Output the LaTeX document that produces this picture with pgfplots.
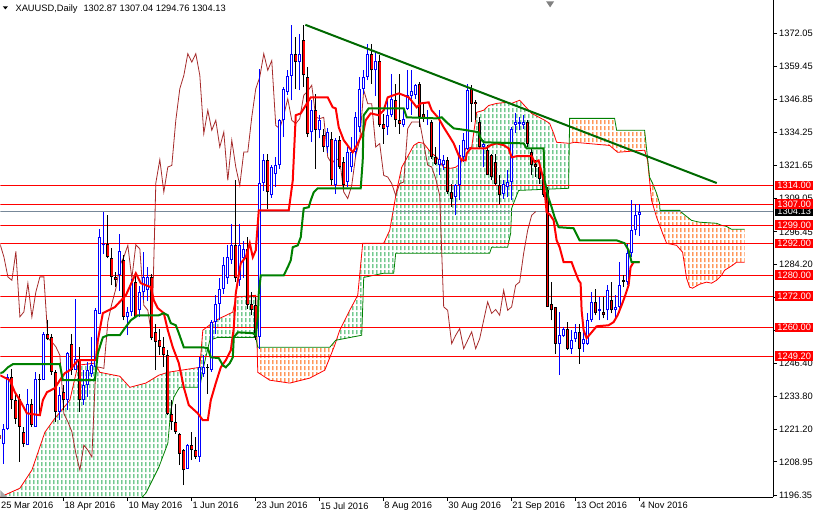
\documentclass[border=0pt]{standalone}
\usepackage{fontspec}
\setmainfont{Liberation Sans}
\usepackage{pgfplots}
\pgfplotsset{compat=1.18}
\usepackage{pgfplotstable}
\usepgfplotslibrary{fillbetween}
\usetikzlibrary{patterns.meta}

\definecolor{bull}{RGB}{0,0,255}
\definecolor{bear}{RGB}{255,0,0}
\definecolor{tenkan}{RGB}{255,0,0}
\definecolor{kijun}{RGB}{0,128,0}
\definecolor{chikou}{RGB}{165,42,42}
\definecolor{spana}{RGB}{255,0,0}
\definecolor{spanb}{RGB}{0,128,0}
\definecolor{cloudgreen}{RGB}{40,172,85}
\definecolor{cloudorange}{RGB}{255,95,0}
\definecolor{curgray}{RGB}{119,136,153}
\definecolor{trend}{RGB}{0,105,0}

\pgfdeclarepattern{
  name=mthatch,
  type=uncolored,
  bottom left={\pgfpoint{0pt}{0pt}},
  top right={\pgfpoint{4pt}{6pt}},
  tile size={\pgfpoint{4pt}{6pt}},
  code={
    \pgfpathrectangle{\pgfpoint{1.5pt}{1pt}}{\pgfpoint{1pt}{4pt}}
    \pgfusepath{fill}
  }
}

% closes of all bars (for the lagging span)
\pgfplotstableread{
i C
0 1217.5
1 1221.6
2 1241.3
3 1232.6
4 1225.4
5 1222.3
6 1215.9
7 1231.1
8 1222.9
9 1240.6
10 1240.0
11 1257.7
12 1255.8
13 1243.2
14 1228.0
15 1234.3
16 1232.4
17 1250.4
18 1243.8
19 1248.2
20 1232.6
21 1238.1
22 1243.8
23 1245.7
24 1266.6
25 1294.5
26 1292.0
27 1286.9
28 1279.3
29 1278.0
30 1289.0
31 1264.1
32 1266.0
33 1276.9
34 1264.1
35 1273.6
36 1279.3
37 1279.3
38 1255.9
39 1254.6
40 1252.7
41 1249.5
42 1227.3
43 1224.2
44 1220.4
45 1212.1
46 1205.8
47 1215.3
48 1213.4
49 1210.8
50 1245.1
51 1244.9
52 1244.5
53 1262.2
54 1269.1
55 1274.8
56 1283.7
57 1286.9
58 1291.3
59 1278.7
60 1291.5
61 1290.0
62 1268.5
63 1266.6
64 1256.5
65 1315.0
66 1323.9
67 1311.6
68 1321.1
69 1321.7
70 1338.9
71 1350.9
72 1355.9
73 1364.2
74 1361.0
75 1364.2
76 1356.0
77 1333.8
78 1342.7
79 1335.1
80 1338.9
81 1328.7
82 1334.4
83 1316.0
84 1331.3
85 1321.1
86 1314.1
87 1326.8
88 1326.8
89 1340.1
90 1350.9
91 1355.3
92 1364.2
93 1357.9
94 1361.6
95 1336.9
96 1335.7
97 1340.8
98 1347.1
99 1338.9
100 1337.6
101 1339.5
102 1348.4
103 1350.0
104 1352.2
105 1340.1
106 1339.5
107 1340.0
108 1324.9
109 1322.4
110 1324.3
111 1323.6
112 1311.6
113 1309.1
114 1314.1
115 1325.5
116 1331.2
117 1350.3
118 1345.2
119 1345.2
120 1328.7
121 1330.0
122 1317.9
123 1317.3
124 1314.8
125 1310.3
126 1314.8
127 1315.4
128 1335.7
129 1338.2
130 1338.2
131 1338.2
132 1330.0
133 1321.8
134 1321.1
135 1316.7
136 1310.3
137 1267.9
138 1266.6
139 1253.9
140 1257.1
141 1259.6
142 1252.0
143 1255.2
144 1258.4
145 1252.0
146 1255.8
147 1262.8
148 1269.8
149 1265.4
150 1266.9
151 1264.7
152 1274.2
153 1266.6
154 1267.9
155 1276.1
156 1277.4
157 1288.2
158 1297.0
159 1302.7
160 1304.13
}\closes

% rising bars
\pgfplotstableread{
i O H L C
1 1215.9 1223.5 1208.3 1221.6
2 1221.6 1242.5 1221.0 1241.3
7 1215.3 1236.8 1215.3 1231.1
9 1222.3 1243.2 1222.3 1240.6
11 1240.0 1258.4 1240.0 1257.7
15 1228.0 1237.5 1225.0 1234.3
17 1232.6 1250.8 1228.6 1250.4
19 1243.8 1270.8 1243.8 1248.2
21 1232.4 1243.8 1230.5 1238.1
22 1238.1 1247.0 1233.7 1243.8
23 1242.5 1256.5 1241.3 1245.7
24 1245.1 1267.5 1243.8 1266.6
25 1265.3 1297.7 1265.3 1294.5
26 1291.3 1304.0 1288.0 1292.0
30 1280.0 1295.5 1274.0 1289.0
32 1264.1 1267.9 1257.1 1266.0
33 1266.0 1278.5 1264.5 1276.9
35 1266.6 1276.0 1264.0 1273.6
36 1273.6 1288.8 1270.5 1279.3
37 1274.2 1283.0 1270.0 1279.3
47 1206.4 1215.9 1206.4 1215.3
50 1210.8 1248.9 1209.0 1245.1
51 1242.5 1249.5 1241.3 1244.9
53 1243.8 1262.8 1243.2 1262.2
54 1262.2 1272.3 1257.7 1269.1
55 1269.1 1278.7 1262.8 1274.8
56 1274.8 1286.9 1272.9 1283.7
57 1278.7 1291.3 1276.7 1286.9
58 1285.6 1299.6 1284.3 1291.3
60 1278.0 1299.6 1276.0 1291.5
61 1286.3 1293.0 1279.0 1290.0
65 1256.5 1358.5 1252.0 1315.0
66 1315.0 1326.2 1312.0 1323.9
68 1310.3 1322.0 1309.5 1321.1
69 1318.6 1324.9 1313.5 1321.7
70 1321.7 1339.5 1320.5 1338.9
71 1338.9 1351.5 1332.5 1350.9
72 1349.6 1357.9 1348.5 1355.9
73 1355.9 1375.0 1346.4 1364.2
75 1361.0 1371.8 1350.3 1364.2
78 1334.4 1346.4 1330.6 1342.7
80 1335.0 1341.0 1332.0 1338.9
82 1328.7 1336.0 1326.5 1334.4
84 1314.1 1332.0 1311.0 1331.3
87 1315.4 1328.7 1313.5 1326.8
88 1321.1 1332.5 1319.2 1326.8
89 1326.8 1342.0 1325.0 1340.1
90 1336.3 1355.3 1334.4 1350.9
91 1350.9 1357.9 1349.0 1355.3
92 1355.3 1368.0 1354.1 1364.2
94 1357.9 1364.8 1348.3 1361.6
97 1336.3 1346.5 1333.2 1340.8
98 1340.8 1356.6 1340.1 1347.1
101 1337.0 1343.0 1336.3 1339.5
102 1343.3 1357.9 1342.7 1348.4
103 1348.0 1357.9 1341.0 1350.0
104 1348.4 1352.8 1347.1 1352.2
107 1339.5 1342.7 1337.0 1340.0
110 1321.7 1342.7 1317.9 1324.3
111 1321.7 1325.5 1319.8 1323.6
114 1309.7 1314.8 1302.7 1314.1
115 1314.1 1329.4 1308.4 1325.5
116 1324.9 1334.0 1323.0 1331.2
117 1328.1 1352.8 1327.5 1350.3
121 1328.7 1331.2 1321.1 1330.0
126 1311.0 1316.0 1309.0 1314.8
127 1313.5 1319.8 1309.7 1315.4
128 1315.4 1336.3 1308.4 1335.7
129 1337.0 1341.5 1334.0 1338.2
130 1337.6 1340.0 1335.0 1338.2
131 1337.0 1341.0 1335.5 1338.2
140 1253.9 1266.0 1241.9 1257.1
141 1257.0 1260.3 1256.5 1259.6
143 1252.0 1259.0 1250.1 1255.2
144 1255.5 1261.5 1254.6 1258.4
146 1253.9 1259.6 1250.8 1255.8
147 1253.9 1265.4 1253.3 1262.8
148 1262.8 1273.6 1262.2 1269.8
150 1266.4 1271.7 1262.8 1266.9
152 1266.6 1276.1 1262.8 1274.2
154 1266.6 1272.3 1262.8 1267.9
155 1267.9 1285.0 1265.4 1276.1
157 1277.4 1292.0 1276.1 1288.2
158 1288.2 1308.4 1286.9 1297.0
159 1297.0 1307.2 1295.1 1302.7
160 1302.87 1307.04 1294.76 1304.13
}\bulls

% falling bars
\pgfplotstableread{
i O H L C
0 1219.0 1222.0 1215.5 1217.5
3 1241.3 1244.4 1229.0 1232.6
4 1232.6 1235.6 1223.5 1225.4
5 1233.0 1234.9 1209.0 1222.3
6 1220.4 1222.3 1214.6 1215.9
8 1231.1 1233.0 1222.3 1222.9
10 1240.6 1242.5 1227.3 1240.0
12 1257.7 1262.8 1255.2 1255.8
13 1256.5 1257.7 1241.9 1243.2
14 1243.2 1243.8 1224.2 1228.0
16 1235.6 1238.0 1228.6 1232.4
18 1253.9 1257.7 1241.9 1243.8
20 1247.6 1252.7 1228.0 1232.6
27 1292.0 1302.7 1286.3 1286.9
28 1286.3 1290.1 1276.1 1279.3
29 1279.3 1281.2 1275.5 1278.0
31 1285.6 1287.5 1262.8 1264.1
34 1277.4 1280.5 1263.5 1264.1
38 1279.3 1280.5 1255.2 1255.9
39 1258.4 1261.5 1243.8 1254.6
40 1255.2 1259.6 1249.5 1252.7
41 1252.7 1256.5 1245.1 1249.5
42 1249.5 1251.4 1226.7 1227.3
43 1227.3 1232.4 1221.0 1224.2
44 1224.2 1231.1 1219.7 1220.4
45 1219.7 1219.9 1207.7 1212.1
46 1213.4 1214.0 1200.1 1205.8
48 1215.3 1220.4 1209.6 1213.4
49 1213.4 1218.4 1210.2 1210.8
52 1245.0 1246.3 1234.9 1244.5
59 1291.3 1316.0 1277.4 1278.7
62 1290.0 1294.5 1267.2 1268.5
63 1269.1 1273.6 1264.7 1266.6
64 1268.5 1271.7 1255.2 1256.5
67 1323.9 1326.2 1305.3 1311.6
74 1364.2 1370.5 1350.9 1361.0
76 1369.3 1375.2 1351.5 1356.0
77 1355.3 1359.1 1332.5 1333.8
79 1342.7 1349.0 1320.5 1335.1
81 1333.1 1335.7 1326.8 1328.7
83 1331.9 1334.4 1314.1 1316.0
85 1331.3 1333.0 1320.5 1321.1
86 1323.0 1324.9 1312.9 1314.1
93 1364.2 1368.0 1352.8 1357.9
95 1361.6 1363.6 1336.3 1336.9
96 1337.6 1341.4 1330.0 1335.7
99 1346.5 1352.8 1336.3 1338.9
100 1338.9 1356.6 1333.8 1337.6
105 1352.8 1353.4 1336.3 1340.1
106 1341.4 1345.2 1338.2 1339.5
108 1338.2 1338.9 1324.3 1324.9
109 1324.9 1328.7 1321.7 1322.4
112 1323.6 1324.9 1311.0 1311.6
113 1311.6 1314.8 1305.9 1309.1
118 1350.9 1352.2 1338.2 1345.2
119 1346.0 1346.5 1338.9 1345.2
120 1338.2 1340.1 1328.1 1328.7
122 1327.5 1329.4 1317.9 1317.9
123 1325.5 1326.2 1316.0 1317.3
124 1323.0 1326.2 1314.1 1314.8
125 1314.1 1317.9 1307.2 1310.3
132 1338.2 1338.9 1328.7 1330.0
133 1326.8 1328.1 1317.9 1321.8
134 1322.4 1323.6 1317.3 1321.1
135 1321.1 1321.7 1314.8 1316.7
136 1317.9 1318.6 1309.7 1310.3
137 1312.2 1313.5 1267.9 1267.9
138 1269.1 1277.4 1262.8 1266.6
139 1267.9 1268.0 1250.1 1253.9
142 1259.6 1262.2 1251.4 1252.0
145 1258.4 1261.5 1246.3 1252.0
149 1269.8 1274.8 1264.7 1265.4
151 1265.8 1271.7 1263.5 1264.7
153 1270.4 1277.4 1265.4 1266.6
156 1278.0 1279.9 1275.5 1277.4
}\bears

% Senkou span A and B
\pgfplotstableread{
x y
0 1195.5
5 1198.9
8 1205.8
11.25 1220.2
13.75 1225.5
17.5 1232.4
19.5 1245.7
23.75 1246.5
25 1243.0
30 1241.5
32.5 1237.3
36.5 1238.9
39.75 1241.9
42 1243.0
50 1244.9
50.75 1259.0
54 1262.8
58.25 1265.9
59 1271.6
64 1272.3
64.5 1243.0
67.5 1240.0
72.5 1238.9
77.5 1240.8
81.25 1243.8
83.75 1253.3
85 1259.0
87.5 1266.6
89.5 1272.3
90.75 1292.1
96 1292.1
97.5 1297.0
99.25 1312.2
100.5 1321.0
101.75 1324.4
103.5 1329.3
104.75 1330.5
106 1330.1
107.75 1326.7
109.25 1324.8
111 1321.0
112.75 1320.6
114 1321.0
115.25 1322.5
116.5 1328.2
118 1328.6
119.25 1341.9
121 1342.7
122.25 1344.5
124.25 1345.3
126.75 1345.7
128 1345.3
130 1346.5
133 1341.5
136.25 1338.9
137.5 1337.7
138.5 1333.9
139.25 1330.5
142.5 1330.1
143.75 1330.5
152.5 1329.3
154.5 1326.7
161.25 1327.5
162 1323.6
163 1308.4
164.25 1302.0
165.75 1295.9
166.75 1292.1
169.25 1291.3
170.75 1288.7
171.75 1278.8
172.5 1275.4
173.25 1275.0
175 1276.5
176.75 1277.3
178 1276.9
179.25 1278.0
180.5 1279.9
181.25 1281.8
182.5 1283.0
183.25 1283.7
184.25 1284.9
186.25 1284.9
}\spanA
\pgfplotstableread{
x y
0 1186.7
15 1186.7
25 1188.7
32.5 1190.6
36.5 1197.0
39.75 1206.9
42 1216.0
42.75 1228.6
43.5 1233.5
44.5 1236.2
45 1237.3
50 1237.3
50.75 1243.8
52.5 1255.2
54.5 1256.3
64 1256.3
64.5 1252.5
82.5 1252.5
84 1255.2
90.5 1257.1
91 1279.1
96 1280.7
98.5 1280.7
99 1288.3
122.5 1288.3
123 1290.6
127 1290.6
127.75 1295.9
128 1305.4
129.75 1312.2
142.25 1313.0
142.5 1339.6
153.75 1339.6
154.25 1335.1
161.25 1335.1
162.5 1317.2
163.25 1314.9
164.25 1311.1
165 1307.3
165.1 1304.6
170 1304.6
170.75 1303.5
173 1300.8
175 1300.1
179.25 1299.7
180.5 1298.9
181.75 1298.5
183 1297.4
186.25 1297.4
}\spanB

\begin{document}
\begin{tikzpicture}[font=\fontsize{9.3}{11}\selectfont]
\begin{axis}[
  scale only axis, width=773pt, height=497pt,
  xmin=0.125, xmax=193.375, ymin=1195.51, ymax=1384.48,
  separate axis lines, axis x line*=bottom, axis y line*=right,
  axis line style={black, line width=0.8pt, -},
  tick align=outside, major tick length=4pt,
  tick style={black, line width=0.8pt},
  xtick={16,32,...,160},
  xticklabels={18 Apr 2016,10 May 2016,1 Jun 2016,23 Jun 2016,15 Jul 2016,8 Aug 2016,30 Aug 2016,21 Sep 2016,13 Oct 2016,4 Nov 2016},
  ytick={1196.35,1208.95,1221.20,1233.80,1246.40,1259.00,1271.60,1284.20,1296.45,1309.05,1321.65,1334.25,1346.85,1359.45,1372.05},
  yticklabels={1196.35,1208.95,1221.20,1233.80,1246.40,{},{},1284.20,1296.45,1309.05,1321.65,1334.25,1346.85,1359.45,1372.05},
  xticklabel style={anchor=north west, inner sep=0pt, xshift=0.5pt, yshift=-1pt},
  yticklabel style={anchor=west, inner sep=0pt, xshift=2pt},
]
% cloud
\addplot[name path=pA, draw=none] table[x=x, y=y] {\spanA};
\addplot[name path=pB, draw=none] table[x=x, y=y] {\spanB};
\addplot[pattern=mthatch, pattern color=cloudgreen, draw=none] fill between[of=pA and pB, soft clip={domain=0:64.31}];
\addplot[pattern=mthatch, pattern color=cloudorange, draw=none] fill between[of=pA and pB, soft clip={domain=64.31:84.12}];
\addplot[pattern=mthatch, pattern color=cloudgreen, draw=none] fill between[of=pA and pB, soft clip={domain=84.12:142.41}];
\addplot[pattern=mthatch, pattern color=cloudorange, draw=none] fill between[of=pA and pB, soft clip={domain=142.41:186.25}];
\addplot[spana, line width=0.8pt] table[x=x, y=y] {\spanA};
\addplot[spanb, line width=0.8pt] table[x=x, y=y] {\spanB};

% horizontal levels
\pgfplotsinvokeforeach{1314,1307,1299,1292,1280,1272,1260,1249.2}{
  \addplot[red, line width=0.8pt] coordinates {(0.125,#1) (193.375,#1)};
}
\addplot[curgray, line width=0.8pt] coordinates {(0.125,1304.13) (193.375,1304.13)};

% lagging span
\addplot[chikou, line width=0.8pt] table[x expr=\thisrow{i}-26, y=C] {\closes};

% wicks
\addplot[draw=none, mark=none,
  error bars/.cd, y dir=plus, y explicit, error mark=none,
  error bar style={draw=bull, line width=0.9pt}]
  table[x=i, y=L, y error expr=\thisrow{H}-\thisrow{L}] {\bulls};
\addplot[draw=none, mark=none,
  error bars/.cd, y dir=plus, y explicit, error mark=none,
  error bar style={draw=black, line width=0.9pt}]
  table[x=i, y=L, y error expr=\thisrow{H}-\thisrow{L}] {\bears};
% rising bodies (hollow)
\addplot[draw=none, mark=none,
  error bars/.cd, y dir=plus, y explicit, error mark=none,
  error bar style={draw=bull, line width=3pt}]
  table[x=i, y=O, y error expr=\thisrow{C}-\thisrow{O}] {\bulls};
\addplot[draw=none, mark=none,
  error bars/.cd, y dir=plus, y explicit, error mark=none,
  error bar style={draw=white, line width=1pt}]
  table[x=i, y expr=\thisrow{O}+0.38, y error expr={max(\thisrow{C}-\thisrow{O}-0.76,0)}] {\bulls};
% falling bodies
\addplot[draw=none, mark=none,
  error bars/.cd, y dir=plus, y explicit, error mark=none,
  error bar style={draw=black, line width=3pt}]
  table[x=i, y=C, y error expr=\thisrow{O}-\thisrow{C}] {\bears};
\addplot[draw=none, mark=none,
  error bars/.cd, y dir=plus, y explicit, error mark=none,
  error bar style={draw=bear, line width=1.6pt}]
  table[x=i, y expr=\thisrow{C}+0.38, y error expr={max(\thisrow{O}-\thisrow{C}-0.76,0)}] {\bears};

% Tenkan-sen
\addplot[tenkan, line width=2pt] coordinates {
(0,1241.9)(2.5,1240.0)(3.75,1235.4)(5,1232.4)(6.75,1227.4)(10,1226.7)(10.75,1232.4)(11.75,1235.4)(13.75,1237.0)(15,1240.0)(16.25,1242.7)(17.5,1243.8)(19.5,1247.6)(24,1247.6)(24.5,1255.2)(25.75,1265.5)(28.75,1267.8)(31.5,1272.3)(33,1277.3)(34,1280.7)(35.25,1276.9)(37.75,1275.4)(38.5,1270.4)(39.5,1267.4)(41,1265.5)(42,1259.0)(43.25,1252.5)(44.75,1246.5)(46,1237.3)(47.25,1230.5)(49.5,1227.4)(50.75,1224.8)(52,1224.8)(52.75,1232.4)(54,1238.9)(55.25,1244.9)(56.5,1247.6)(57.75,1251.4)(58.5,1259.8)(59,1273.1)(60.25,1284.5)(61.5,1286.8)(62.5,1292.1)(63.25,1286.8)(64,1289.4)(64.75,1304.6)(72.25,1304.6)(73.25,1316.0)(74,1340.8)(75.25,1341.5)(77.75,1347.6)(82,1347.6)(83.25,1343.8)(84,1343.4)(84.75,1336.2)(86,1331.3)(88.25,1326.7)(89,1328.6)(90.25,1332.4)(91,1335.1)(91.5,1338.9)(92.75,1341.5)(94.75,1340.8)(96,1342.7)(97,1347.6)(99.75,1349.1)(101,1348.4)(102.25,1347.6)(103.5,1345.3)(104.25,1343.8)(105.25,1345.3)(107.25,1345.7)(108,1342.7)(109.75,1339.6)(111,1336.2)(112.25,1333.2)(113.5,1330.1)(114.75,1325.5)(115.5,1323.6)(116.5,1323.6)(116.75,1326.3)(117.75,1328.2)(121.5,1328.2)(122.75,1329.4)(124.25,1330.1)(126,1329.4)(127.25,1328.2)(128,1324.8)(129.25,1325.2)(133,1325.2)(133.75,1322.9)(134.75,1323.6)(136,1316.0)(136.75,1303.9)(137.5,1303.1)(138.5,1300.8)(139.25,1293.2)(140,1290.6)(141,1284.9)(143,1284.9)(143.75,1281.8)(144.75,1278.0)(145.25,1276.9)(145.5,1266.6)(146,1259.0)(146.75,1256.0)(148,1258.2)(149.25,1260.5)(152.25,1260.9)(153.5,1262.1)(154.5,1264.7)(155.5,1268.5)(156.25,1271.6)(157.25,1276.1)(157.75,1283.0)(158.5,1284.9)(160,1284.9)};
% Kijun-sen
\addplot[kijun, line width=2pt] coordinates {
(0,1242.7)(0.75,1243.0)(2,1244.9)(3.25,1246.1)(15,1246.1)(15.75,1240.0)(23.75,1240.0)(24.5,1250.3)(25.75,1256.3)(27,1257.1)(30,1257.1)(31.25,1259.8)(32.75,1262.8)(34.5,1264.7)(39.75,1264.7)(41,1265.5)(42,1264.7)(42.75,1261.7)(44,1260.9)(44.75,1257.9)(46,1252.5)(50.75,1252.5)(52,1252.2)(52.75,1248.7)(54.75,1248.4)(55.75,1245.7)(56.5,1244.9)(57.5,1246.5)(58.25,1248.7)(58.5,1256.3)(59.5,1258.2)(63.25,1257.9)(64,1257.1)(64.5,1263.9)(64.75,1273.1)(65.25,1279.9)(71,1279.9)(72,1283.0)(72.75,1285.6)(73.25,1290.6)(74.5,1291.3)(75.25,1294.4)(75.75,1302.0)(76,1305.4)(77.25,1305.8)(77.75,1308.4)(78.5,1311.5)(79.5,1313.0)(90.25,1313.0)(90.75,1323.6)(91,1340.8)(92.25,1343.4)(101,1343.4)(101.75,1340.0)(109.25,1339.6)(110.5,1340.0)(111.75,1338.1)(113.5,1335.8)(116.75,1335.1)(119.75,1334.3)(120.25,1332.0)(121,1330.5)(131,1330.1)(131.75,1328.2)(136,1328.2)(136.25,1316.0)(137.25,1309.2)(138,1305.8)(138.75,1302.0)(139.75,1298.2)(143.5,1297.8)(145,1293.2)(154.25,1293.2)(156.25,1292.1)(157.25,1289.4)(158,1284.9)(160,1284.9)};

% trend line
\addplot[trend, line width=2pt] coordinates {(76.4,1375.2) (179.3,1315.0)};

\coordinate (r1314) at (axis cs:193.375,1314);
\coordinate (r1307) at (axis cs:193.375,1307);
\coordinate (r1299) at (axis cs:193.375,1299);
\coordinate (r1292) at (axis cs:193.375,1292);
\coordinate (r1280) at (axis cs:193.375,1280);
\coordinate (r1272) at (axis cs:193.375,1272);
\coordinate (r1260) at (axis cs:193.375,1260);
\coordinate (r1249) at (axis cs:193.375,1249.2);
\coordinate (rcur) at (axis cs:193.375,1304.13);
\end{axis}

\tikzset{lvl/.style={fill=red, text=white, anchor=west, inner xsep=2.2pt, inner ysep=0pt, minimum height=9.5pt}}
\node[lvl, fill=black] at ([xshift=2pt]rcur) {1304.13};
\node[lvl] at ([xshift=2pt]r1314) {1314.00};
\node[lvl] at ([xshift=2pt]r1307) {1307.00};
\node[lvl] at ([xshift=2pt]r1299) {1299.00};
\node[lvl] at ([xshift=2pt]r1292) {1292.00};
\node[lvl] at ([xshift=2pt]r1280) {1280.00};
\node[lvl] at ([xshift=2pt]r1272) {1272.00};
\node[lvl] at ([xshift=2pt]r1260) {1260.00};
\node[lvl] at ([xshift=2pt]r1249) {1249.20};

\node[anchor=north west, inner sep=0pt] at (0.5pt,-5pt) {25 Mar 2016};
\fill[black] (2.5pt,491pt) -- (7.5pt,491pt) -- (5pt,488pt) -- cycle;
\node[anchor=base west, inner sep=0pt] at (15pt,486pt) {XAUUSD,Daily\hspace{6pt}1302.87 1307.04 1294.76 1304.13};
\fill[gray] (546pt,496pt) -- (554pt,496pt) -- (550pt,490pt) -- cycle;
\fill[gray!70] (0pt,0pt) -- (7pt,0pt) -- (0pt,7pt) -- cycle;
\useasboundingbox (0,-17pt) rectangle (814pt,497pt);
\end{tikzpicture}
\end{document}
